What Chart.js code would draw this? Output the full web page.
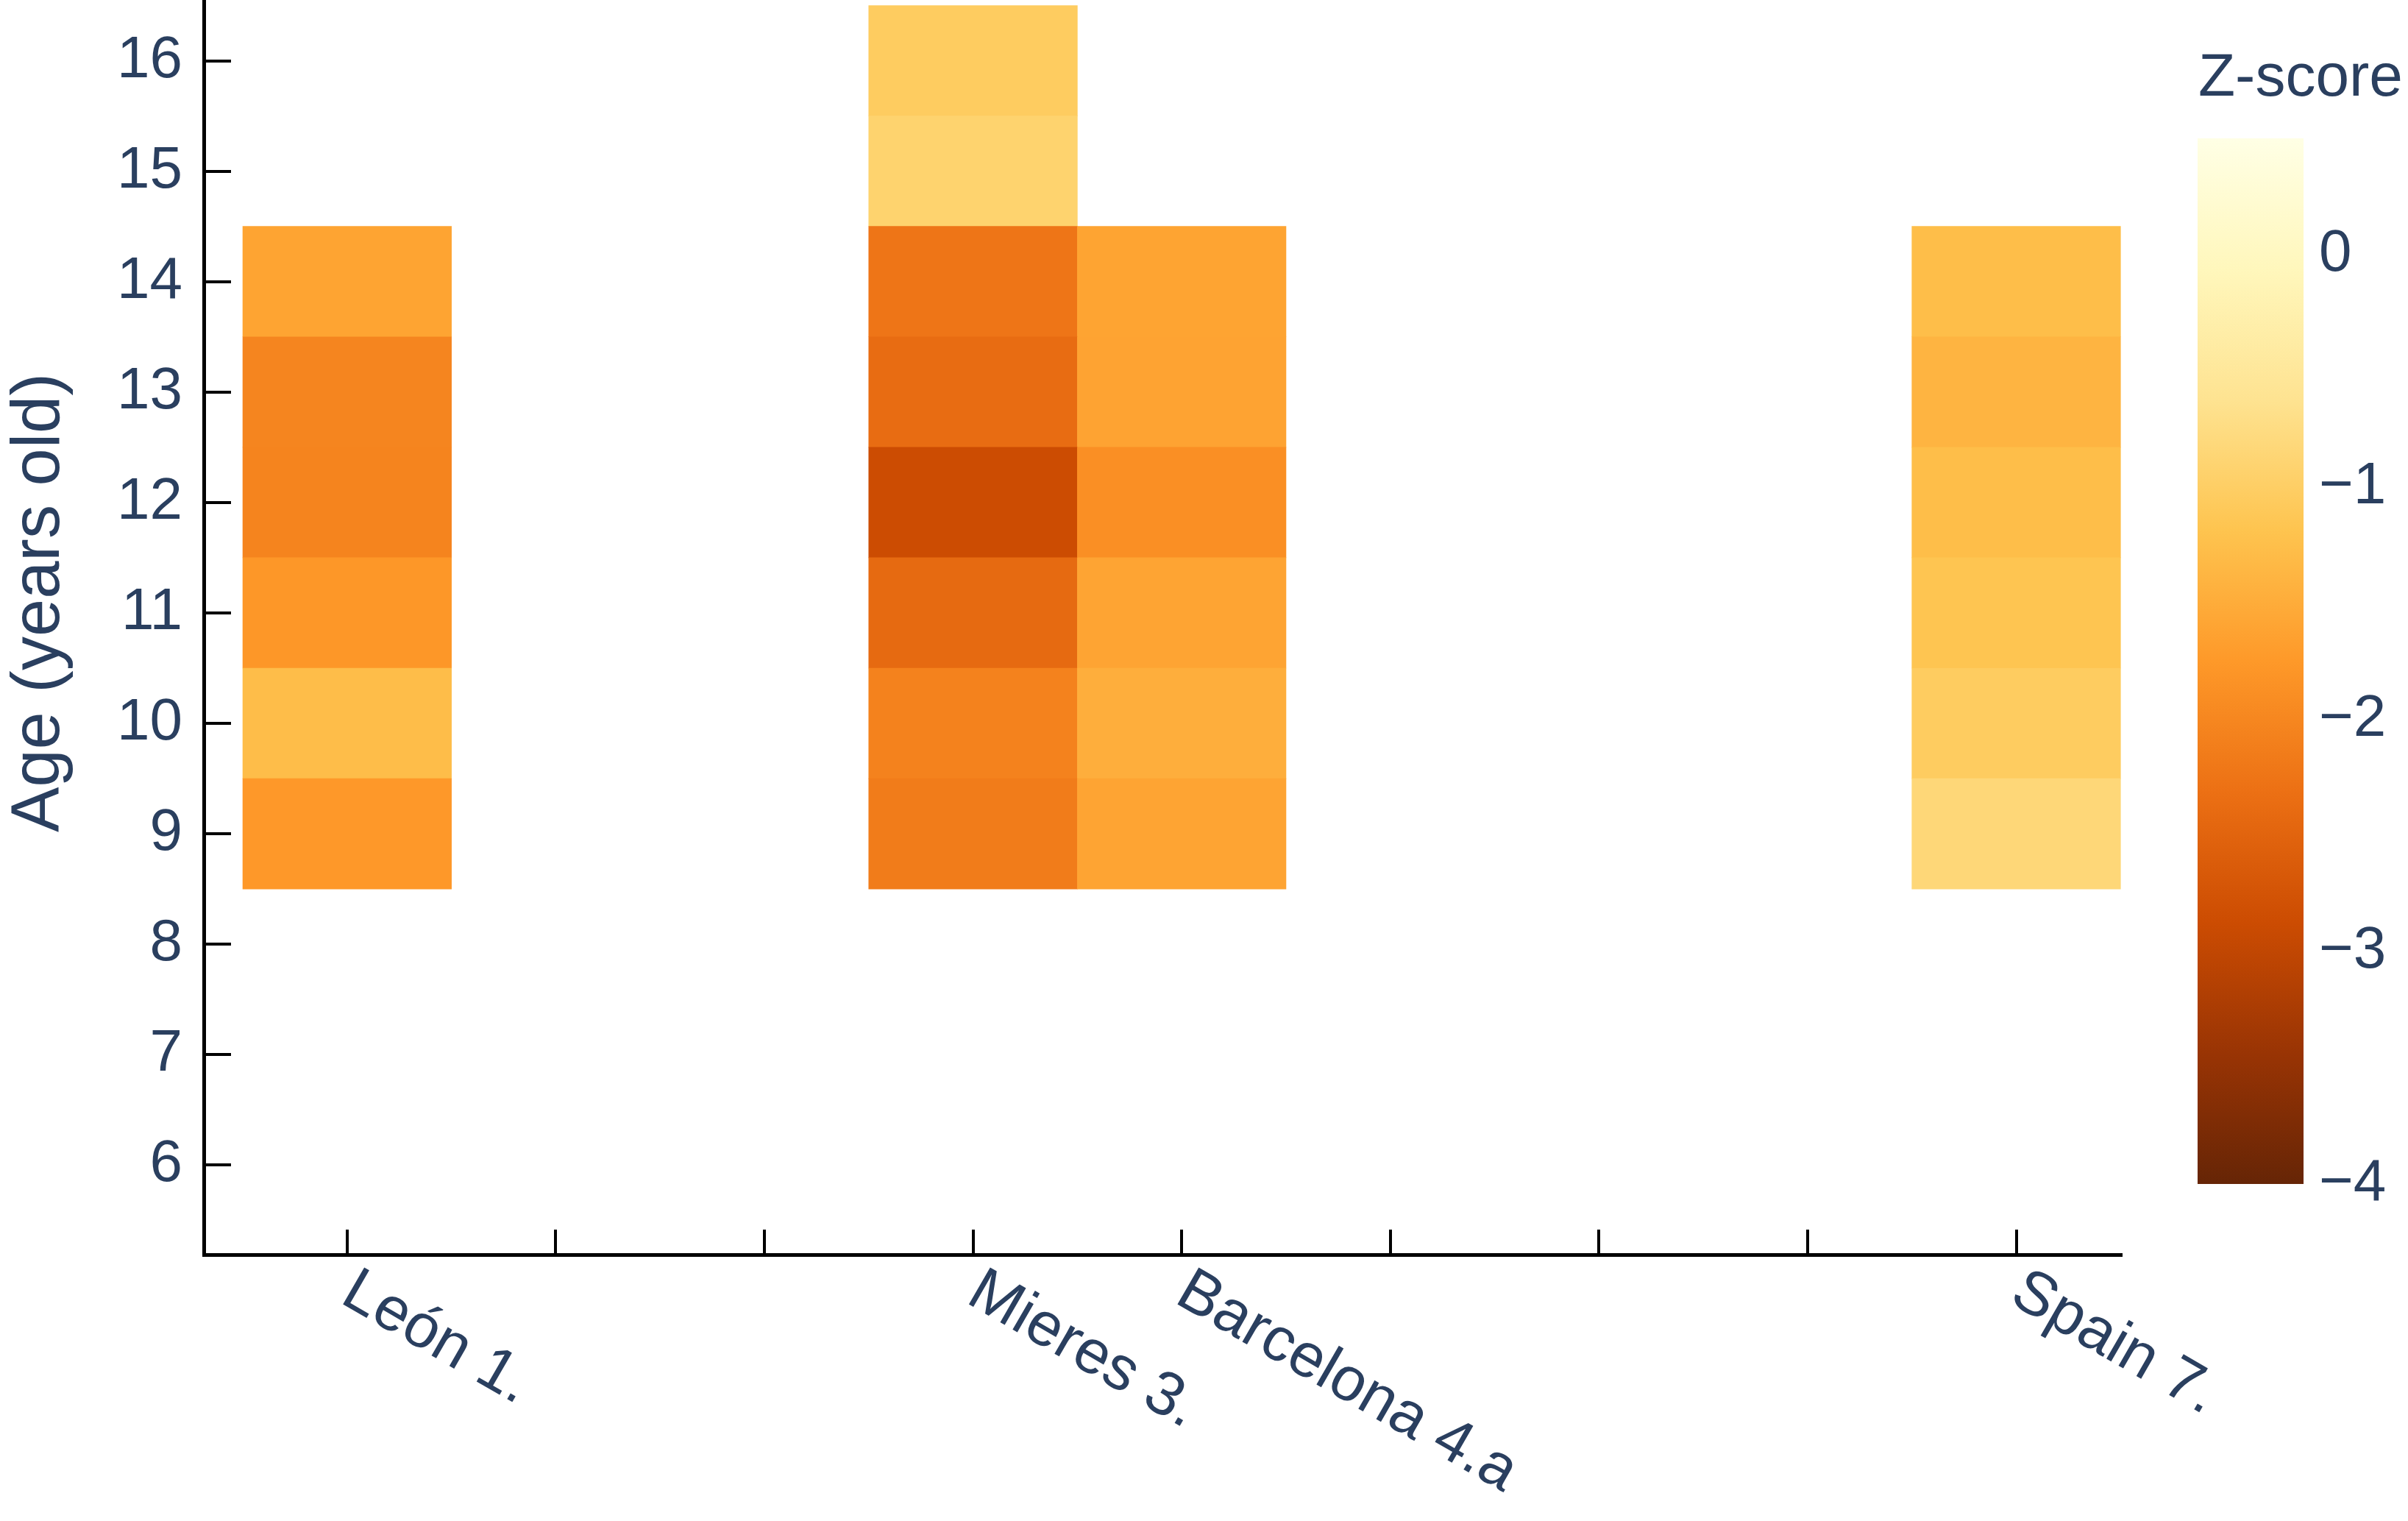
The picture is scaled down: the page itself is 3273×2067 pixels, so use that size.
<!DOCTYPE html>
<html>
<head>
<meta charset="utf-8">
<script src="https://cdn.jsdelivr.net/npm/chart.js@4.4.1/dist/chart.umd.min.js"></script>
<style>
html,body{margin:0;padding:0;background:#ffffff;overflow:hidden}
#wrap{position:relative;width:3273px;height:2067px;background:#ffffff}
#main{position:absolute;left:0;top:0}
#cbar{position:absolute;left:2900px;top:0}
</style>
</head>
<body>
<div id="wrap">
<canvas id="main" width="3273" height="2067"></canvas>
<canvas id="cbar" width="373" height="2067"></canvas>
</div>
<script>
// ---------- data ----------
const categories = ['León 1.', '', '', 'Mieres 3.', 'Barcelona 4.a', '', '', '', 'Spain 7.'];
const ages = [9, 10, 11, 12, 13, 14, 15, 16];
const leonZ      = [-1.76, -1.28, -1.78, -2.04, -2.02, -1.61, null, null];
const mieresZ    = [-2.15, -2.07, -2.41, -2.88, -2.38, -2.24, -0.92, -1.04];
const barcelonaZ = [-1.60, -1.47, -1.60, -1.89, -1.62, -1.61, null, null];
const spainZ     = [-0.84, -1.04, -1.17, -1.27, -1.40, -1.27, null, null];
const yTickValues = [6, 7, 8, 9, 10, 11, 12, 13, 14, 15, 16];
const zTickValues = [-4, -3, -2, -1, 0];
const zRange = [-4, 0.5];
const colorScale = ['#662506','#993404','#cc4c02','#ec7014','#fe9929','#fec44f','#fee391','#fff7bc','#ffffe5'];

const series = [
  {name: 'León 1.', z: leonZ},
  {name: 'Mieres 3.', z: mieresZ},
  {name: 'Barcelona 4.a', z: barcelonaZ},
  {name: 'Spain 7.', z: spainZ}
];

// ---------- style ----------
const FAM = '"Liberation Sans", Arial, Helvetica, sans-serif';
const TXT = '#2a3f5f';
const LINE_W = 5;

function hexToRgb(h){ return [parseInt(h.slice(1,3),16), parseInt(h.slice(3,5),16), parseInt(h.slice(5,7),16)]; }
const stopsRgb = colorScale.map(hexToRgb);
function zColor(v){
  let t = (v - zRange[0]) / (zRange[1] - zRange[0]);
  t = Math.max(0, Math.min(1, t));
  const n = stopsRgb.length - 1;
  const p = t * n;
  const i = Math.min(n - 1, Math.floor(p));
  const f = p - i;
  const a = stopsRgb[i], b = stopsRgb[i + 1];
  const c = a.map((x, k) => Math.round(x + (b[k] - x) * f));
  return `rgb(${c[0]},${c[1]},${c[2]})`;
}

const datasets = ages.map((age, k) => ({
  label: String(age),
  data: series.filter(s => s.z[k] !== null).map(s => ({
    x: categories.indexOf(s.name),
    y: [age - 0.5, age + 0.5],
    z: s.z[k]
  })),
  backgroundColor: ctx => zColor(ctx.raw.z),
  borderWidth: 0,
  grouped: false,
  barPercentage: 1,
  categoryPercentage: 1
}));

const PLOT_BOTTOM = 1705;

const decor = {
  id: 'decor',
  afterDraw(chart){
    const {ctx, chartArea: a, scales: {x, y}} = chart;
    ctx.save();
    ctx.strokeStyle = '#000';
    ctx.lineWidth = 4;
    y.ticks.forEach(t => {
      const py = Math.round(y.getPixelForValue(t.value));
      ctx.beginPath(); ctx.moveTo(a.left, py); ctx.lineTo(a.left + 37, py); ctx.stroke();
    });
    x.ticks.forEach(t => {
      const px = Math.round(x.getPixelForValue(t.value));
      ctx.beginPath(); ctx.moveTo(px, a.bottom); ctx.lineTo(px, a.bottom - 34); ctx.stroke();
    });
    ctx.fillStyle = TXT;
    ctx.font = `84px ${FAM}`;
    ctx.textAlign = 'left';
    ctx.textBaseline = 'middle';
    categories.forEach((c, i) => {
      if (!c) return;
      const px = x.getPixelForValue(i);
      ctx.save();
      ctx.translate(px, a.bottom + 44);
      ctx.rotate(Math.PI / 6);
      ctx.fillText(c, 0, 0);
      ctx.restore();
    });
    ctx.save();
    ctx.translate(55, 819);
    ctx.rotate(-Math.PI / 2);
    ctx.textAlign = 'center';
    ctx.textBaseline = 'middle';
    ctx.font = `92px ${FAM}`;
    ctx.fillText('Age (years old)', 0, 0);
    ctx.restore();
    ctx.restore();
  }
};

new Chart(document.getElementById('main'), {
  type: 'bar',
  data: {datasets},
  options: {
    responsive: false,
    animation: false,
    devicePixelRatio: 1,
    layout: {padding: {left: 0, right: 389, top: 0, bottom: 0}},
    plugins: {legend: {display: false}, tooltip: {enabled: false}},
    scales: {
      x: {
        type: 'linear', min: -0.687, max: 8.506, offset: false,
        grid: {display: false, drawTicks: false, offset: false},
        border: {display: true, color: '#000', width: LINE_W},
        ticks: {display: false},
        afterBuildTicks(s){ s.ticks = categories.map((c, i) => ({value: i})); },
        afterFit(s){ s.height = 2067 - PLOT_BOTTOM; s.paddingLeft = 0; s.paddingRight = 0; }
      },
      y: {
        type: 'linear', min: 5.19, max: 16.55,
        grid: {display: false, drawTicks: false},
        border: {display: true, color: '#000', width: LINE_W},
        ticks: {color: TXT, font: {family: FAM, size: 80}, padding: 29},
        afterBuildTicks(s){ s.ticks = yTickValues.map(v => ({value: v})); },
        afterFit(s){ s.width = 277; s.paddingTop = 0; s.paddingBottom = 0; }
      }
    }
  },
  plugins: [decor]
});

const cbFill = {
  id: 'cbFill',
  beforeDatasetsDraw(chart){
    const {ctx, chartArea: a, scales: {y}} = chart;
    const g = ctx.createLinearGradient(0, y.getPixelForValue(zRange[0]), 0, y.getPixelForValue(zRange[1]));
    colorScale.forEach((c, i) => g.addColorStop(i / (colorScale.length - 1), c));
    ctx.save();
    ctx.fillStyle = g;
    ctx.fillRect(a.left, a.top, a.right - a.left, a.bottom - a.top);
    ctx.fillStyle = TXT;
    ctx.font = `82px ${FAM}`;
    ctx.textAlign = 'left';
    ctx.textBaseline = 'alphabetic';
    ctx.fillText('Z-score', a.left + 1, 130);
    ctx.restore();
  }
};

new Chart(document.getElementById('cbar'), {
  type: 'bar',
  data: {datasets: []},
  options: {
    responsive: false,
    animation: false,
    devicePixelRatio: 1,
    layout: {padding: {left: 87, top: 188, bottom: 2067 - 1609, right: 0}},
    plugins: {legend: {display: false}, tooltip: {enabled: false}},
    scales: {
      x: {type: 'linear', display: false, min: 0, max: 1},
      y: {
        type: 'linear', position: 'right', min: zRange[0], max: zRange[1],
        grid: {display: false, drawTicks: false},
        border: {display: false},
        ticks: {color: TXT, font: {family: FAM, size: 80}, padding: 21,
          callback: v => v < 0 ? '\u2212' + Math.abs(v) : String(v)},
        afterBuildTicks(s){ s.ticks = zTickValues.map(v => ({value: v})); },
        afterFit(s){ s.width = 142; }
      }
    }
  },
  plugins: [cbFill]
});
</script>
</body>
</html>
